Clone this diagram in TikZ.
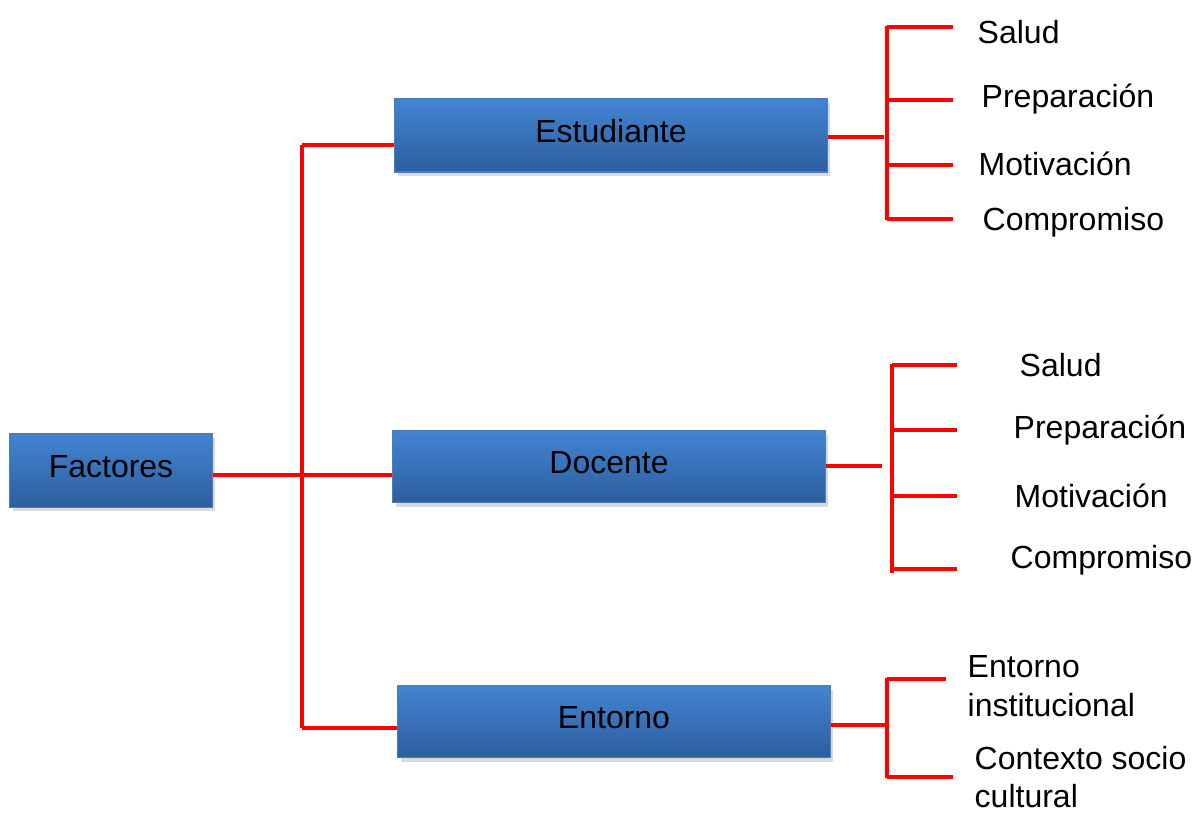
\documentclass[tikz,border=0pt]{standalone}
\usepackage{fontspec}
\setmainfont{Liberation Sans}
\usepackage{xcolor}
\usepackage{tikz}
\usetikzlibrary{shadows}

\definecolor{boxtop}{HTML}{4384D2}
\definecolor{boxbot}{HTML}{2D5E9E}
\definecolor{boxedge}{HTML}{4A7EBB}
\definecolor{linkred}{HTML}{FF0000}

\begin{document}
\begin{tikzpicture}[
        x=0.01cm, y=-0.01cm,
        font=\fontsize{9.1}{10.9}\selectfont,
        box/.style={rectangle, draw=boxedge, line width=0.3pt, top color=boxtop, bottom color=boxbot, minimum width=4.32cm, minimum height=0.72cm, text height=0.72em, text depth=0.32em, align=center, drop shadow={shadow xshift=0.8pt, shadow yshift=-1.2pt, opacity=0.3}},
        item/.style={anchor=west, inner sep=0pt, align=left},
        link/.style={linkred, line width=1.4pt}
    ]
    \useasboundingbox (0,0) rectangle (1195,812);

    % Main boxes
    \node[box, minimum width=2.02cm, minimum height=0.73cm] (factores) at (111,470.5) {Factores};
    \node[box, minimum height=0.73cm] (estudiante) at (611,135.5) {Estudiante};
    \node[box] (docente) at (609,466.5) {Docente};
    \node[box] (entorno) at (614,721.5) {Entorno};

    % Labels - Estudiante
    \node[item] (est_salud) at (977,32) {Salud};
    \node[item] (est_prep) at (981,99) {Preparación};
    \node[item] (est_motiv) at (978,164) {Motivación};
    \node[item] (est_comp) at (982,222) {Compromiso};

    % Labels - Docente
    \node[item] (doc_salud) at (1019,365) {Salud};
    \node[item] (doc_prep) at (1013,430) {Preparación};
    \node[item] (doc_motiv) at (1014,496) {Motivación};
    \node[item] (doc_comp) at (1010,560) {Compromiso};

    % Labels - Entorno
    \node[item] (ent_inst) at (967,686) {Entorno\\institucional};
    \node[item] (ent_ctx) at (974,777) {Contexto socio\\cultural};

    % Trunk
    \coordinate (trunk_top) at (302,145);
    \coordinate (trunk_mid) at (302,475);
    \coordinate (trunk_bot) at (302,728);
    \draw[link] (trunk_top) -- (trunk_bot);
    \draw[link] (factores.east |- trunk_mid) -- (docente.west |- trunk_mid);
    \draw[link] (trunk_top) -- (estudiante.west |- trunk_top);
    \draw[link] (trunk_bot) -- (entorno.west |- trunk_bot);

    % Bracket - Estudiante
    \coordinate (est_fork) at (884,137);
    \draw[link] (estudiante.east |- est_fork) -- (est_fork);
    \draw[link] (887,26) -- (887,220);
    \draw[link] (887,27) -- (953,27);
    \draw[link] (887,100) -- (953,100);
    \draw[link] (887,165) -- (953,165);
    \draw[link] (887,219) -- (953,219);

    % Bracket - Docente
    \coordinate (doc_fork) at (882,466);
    \draw[link] (docente.east |- doc_fork) -- (doc_fork);
    \draw[link] (892,364) -- (892,573);
    \draw[link] (892,365) -- (957,365);
    \draw[link] (892,430) -- (957,430);
    \draw[link] (892,496) -- (957,496);
    \draw[link] (892,569) -- (957,569);

    % Bracket - Entorno
    \coordinate (ent_fork) at (886,725);
    \draw[link] (entorno.east |- ent_fork) -- (ent_fork);
    \draw[link] (887,678) -- (887,778);
    \draw[link] (887,679) -- (946,679);
    \draw[link] (887,777) -- (953,777);

\end{tikzpicture}
\end{document}
